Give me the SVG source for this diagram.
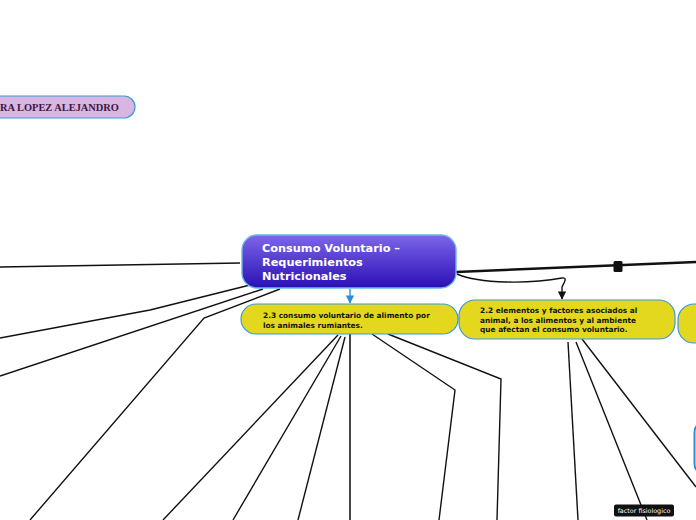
<svg xmlns="http://www.w3.org/2000/svg" width="696" height="520" viewBox="0 0 696 520">
<defs>
<linearGradient id="gc" x1="0" y1="0" x2="0" y2="1">
<stop offset="0" stop-color="#7d66ea"/>
<stop offset="1" stop-color="#2a0fb5"/>
</linearGradient>
<marker id="ab" viewBox="0 0 10 10" refX="9" refY="5" markerWidth="6" markerHeight="6" orient="auto"><path d="M0,0 L10,5 L0,10 z" fill="#2a8fd6"/></marker>
<marker id="ak" viewBox="0 0 10 10" refX="9" refY="5" markerWidth="6" markerHeight="6" orient="auto"><path d="M0,0 L10,5 L0,10 z" fill="#111"/></marker>
<style>
.c{fill:none;stroke:#111;stroke-width:1.4}
.y{fill:#e3d81e;stroke:#3a9ad9;stroke-width:1.2}
.t{font-family:"DejaVu Sans",Verdana,sans-serif;font-weight:bold;font-size:7.4px;fill:#111}
</style>
</defs>
<g id="connectors">
<path class="c" d="M240,263 L0,267"/>
<path class="c" d="M250,285 L150,310 L0,338"/>
<path class="c" d="M263,289 L0,376"/>
<path class="c" d="M280,289 L204,318 L30,520"/>
<path class="c" d="M338,335 L163,520"/>
<path class="c" d="M341,336 L233,520"/>
<path class="c" d="M345,337 L298,520"/>
<path d="M350,334 L350,520" fill="none" stroke="#333" stroke-width="1.8"/>
<path class="c" d="M372,334 L455,390 L439,520"/>
<path class="c" d="M388,334 L501,379 L497,520"/>
<path class="c" d="M568,342 L578,520"/>
<path class="c" d="M576,342 L647,520"/>
<path class="c" d="M582,339 L696,487"/>
<path d="M456,272 L696,262" fill="none" stroke="#111" stroke-width="2.5"/>
<rect x="613.5" y="261" width="9" height="11" rx="1.5" fill="#111"/>
<path class="c" d="M457,274 C480,284 530,284 562,278 C568,277 564,283 562,287 L562,299" marker-end="url(#ak)"/>
<path d="M350,289 L350,303" fill="none" stroke="#2a8fd6" stroke-width="1.4" marker-end="url(#ab)"/>
</g>
<g id="node-alejandro">
<rect x="-40" y="96" width="175" height="22" rx="11" fill="#d9b5e2" stroke="#3a9ad9" stroke-width="1.2"/>
<text x="0" y="110.5" font-family="'Liberation Serif','Times New Roman',serif" font-weight="bold" font-size="10.4" fill="#3a1840">RA LOPEZ ALEJANDRO</text>
</g>
<g id="node-central">
<rect x="242" y="235" width="214" height="53" rx="15" fill="url(#gc)" stroke="#6ab6ea" stroke-width="1.4"/>
<text font-family="'DejaVu Sans',Verdana,sans-serif" font-weight="bold" font-size="11.3" fill="#fff">
<tspan x="262" y="252">Consumo Voluntario –</tspan>
<tspan x="262" y="266">Requerimientos</tspan>
<tspan x="262" y="280">Nutricionales</tspan>
</text>
</g>
<g id="node-23">
<rect class="y" x="241" y="304" width="217" height="30" rx="15"/>
<text class="t"><tspan x="263" y="318">2.3 consumo voluntario de alimento por</tspan><tspan x="263" y="327.5">los animales rumiantes.</tspan></text>
</g>
<g id="node-22">
<rect class="y" x="459" y="300" width="216" height="39" rx="16"/>
<text class="t"><tspan x="480" y="313">2.2 elementos y factores asociados al</tspan><tspan x="480" y="322.5">animal, a los alimentos y al ambiente</tspan><tspan x="480" y="332">que afectan el consumo voluntario.</tspan></text>
</g>
<g id="node-right">
<rect class="y" x="678" y="304" width="60" height="39" rx="16"/>
</g>
<g id="node-blue">
<rect x="694.5" y="422" width="40" height="52" rx="10" fill="#fff" stroke="#2a8fd6" stroke-width="2"/>
</g>
<g id="label-factor">
<rect x="614" y="504.5" width="60" height="12" rx="2" fill="#111"/>
<text x="644" y="513" text-anchor="middle" font-family="'DejaVu Sans',Verdana,sans-serif" font-size="6.4" fill="#fff">factor fisiologico</text>
</g>
</svg>
